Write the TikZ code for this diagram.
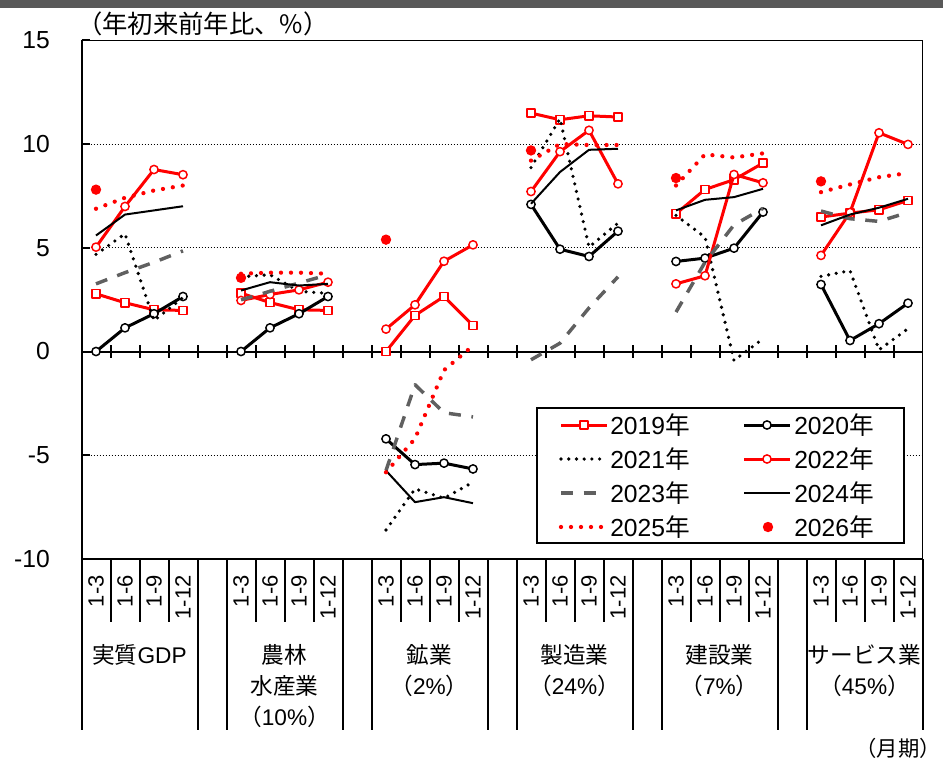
\documentclass[tikz,border=0pt]{standalone}
\usepackage{fontspec}
\setmainfont{Liberation Sans}
\newfontfamily\cjk{Noto Sans CJK JP}
\usetikzlibrary{plotmarks}
\definecolor{xred}{RGB}{255,0,0}
\definecolor{xgray}{RGB}{96,96,96}
\definecolor{barg}{RGB}{89,89,89}
\begin{document}
\begin{tikzpicture}[x=0.75pt,y=-0.75pt,
  lab/.style={inner sep=0pt, font=\fontsize{18.5}{22}\selectfont},
  glab/.style={inner sep=0pt, font=\fontsize{17}{20}\selectfont},
  mlab/.style={rotate=90, anchor=east, inner sep=0pt, font=\fontsize{16.5}{19}\selectfont},
  grid/.style={line width=0.75pt, dash pattern=on 0.75pt off 1.5pt},
  frame/.style={line width=1.1pt},
  axisline/.style={line width=1.5pt},
  s19/.style={draw=xred, line width=2.25pt, line join=round, mark=square*, mark size=3.1pt,
    mark options={solid, fill=white, draw=xred, line width=1.1pt}},
  s20/.style={draw=black, line width=2.25pt, line join=round, mark=*, mark size=3.1pt,
    mark options={solid, fill=white, draw=black, line width=1.1pt}},
  s21/.style={draw=black, line width=2.7pt, line cap=round, line join=round, dash pattern=on 0pt off 5.8pt},
  s22/.style={draw=xred, line width=2.25pt, line join=round, mark=*, mark size=3.1pt,
    mark options={solid, fill=white, draw=xred, line width=1.1pt}},
  s23/.style={draw=xgray, line width=2.6pt, line join=round, dash pattern=on 9pt off 8pt},
  s24/.style={draw=black, line width=1.5pt, line join=round},
  s25/.style={draw=xred, line width=3.2pt, line cap=round, line join=round, dash pattern=on 0pt off 7.5pt},
  s26/.style={fill=xred}
]
\useasboundingbox (0,0) rectangle (943,764);
\fill[barg] (0,0) rectangle (943,8);
\node[lab, anchor=west, font=\cjk\fontsize{19}{22}\selectfont] (title) at (77,24) {（年初来前年比、\%）};

% gridlines
\foreach \yy in {144,247.75,455.25} { \draw[grid] (81.5,\yy) -- (922.5,\yy); }
% plot frame
\draw[frame] (81.5,40.25) rectangle (922.5,559);
\draw[axisline] (81.5,40.25) -- (81.5,730);
\draw[axisline] (81.5,351.5) -- (922.5,351.5);
% inner y ticks
\foreach \yy in {40.25,144,247.75,351.5,455.25,559} { \draw[axisline] (81.5,\yy) -- (89.5,\yy); }
% zero-line ticks
\foreach \i in {1,...,28} { \draw[axisline] ({81.5+29*\i},345) -- ({81.5+29*\i},358); }
% y labels
\node[lab, anchor=east] (y15) at (50,40.25) {15};
\node[lab, anchor=east] (y10) at (50,144) {10};
\node[lab, anchor=east] (y5) at (50,247.75) {5};
\node[lab, anchor=east] (y0) at (50,351.5) {0};
\node[lab, anchor=east] (ym5) at (50,455.25) {-5};
\node[lab, anchor=east] (ym10) at (50,559) {-10};

% category separators below the plot
\foreach \g in {0,...,5} {
  \draw[axisline] ({81.5+145*\g},559) -- ({81.5+145*\g},730);
  \draw[axisline] ({81.5+145*\g+116},559) -- ({81.5+145*\g+116},730);
  \foreach \k in {1,2,3} { \draw[axisline] ({81.5+145*\g+29*\k},559) -- ({81.5+145*\g+29*\k},622); }
  \foreach \k/\t in {0/1-3,1/1-6,2/1-9,3/1-12} { \node[mlab] (m\g-\k) at ({96+145*\g+29*\k},575) {\t}; }
}
% group labels
\node[glab] (g0a) at (139.5,655) {{\cjk 実質}GDP};
\node[glab] (g1a) at (284.5,655) {\cjk 農林};
\node[glab] (g1b) at (284.5,686) {\cjk 水産業};
\node[glab] (g1c) at (284.5,717) {{\cjk （}10\%{\cjk ）}};
\node[glab] (g2a) at (429.5,655) {\cjk 鉱業};
\node[glab] (g2b) at (429.5,686) {{\cjk （}2\%{\cjk ）}};
\node[glab] (g3a) at (574.5,655) {\cjk 製造業};
\node[glab] (g3b) at (574.5,686) {{\cjk （}24\%{\cjk ）}};
\node[glab] (g4a) at (719.5,655) {\cjk 建設業};
\node[glab] (g4b) at (719.5,686) {{\cjk （}7\%{\cjk ）}};
\node[glab] (g5a) at (864.5,655) {\cjk サービス業};
\node[glab] (g5b) at (864.5,686) {{\cjk （}45\%{\cjk ）}};
\node[glab, anchor=east, font=\cjk\fontsize{16}{18}\selectfont] (unit) at (941,748) {（月期）};

% data
\begin{scope}[shift={(72pt,-263.625pt)}, x=21.75pt, y=15.5625pt]
% 2019
\draw[s19] plot coordinates {(0,2.78) (1,2.35) (2,2.01) (3,1.98)};
\draw[s19] plot coordinates {(5,2.81) (6,2.36) (7,2.01) (8,1.98)};
\draw[s19] plot coordinates {(10,0.0) (11,1.74) (12,2.65) (13,1.25)};
\draw[s19] plot coordinates {(15,11.49) (16,11.17) (17,11.36) (18,11.3)};
\draw[s19] plot coordinates {(20,6.64) (21,7.81) (22,8.28) (23,9.08)};
\draw[s19] plot coordinates {(25,6.48) (26,6.67) (27,6.83) (28,7.28)};
% 2020
\draw[s20] plot coordinates {(0,0.0) (1,1.14) (2,1.82) (3,2.65)};
\draw[s20] plot coordinates {(5,0.0) (6,1.14) (7,1.82) (8,2.65)};
\draw[s20] plot coordinates {(10,-4.21) (11,-5.45) (12,-5.38) (13,-5.66)};
\draw[s20] plot coordinates {(15,7.09) (16,4.93) (17,4.58) (18,5.8)};
\draw[s20] plot coordinates {(20,4.34) (21,4.5) (22,4.98) (23,6.72)};
\draw[s20] plot coordinates {(25,3.23) (26,0.53) (27,1.34) (28,2.33)};
% 2021
\draw[s21] plot coordinates {(0,4.68) (1,5.67) (2,1.49) (3,2.6)};
\draw[s21] plot coordinates {(5,3.6) (6,3.7) (7,2.9) (8,2.8)};
\draw[s21] plot coordinates {(10,-8.6) (11,-6.62) (12,-7.07) (13,-6.3)};
\draw[s21] plot coordinates {(15,8.86) (16,11.22) (17,5.03) (18,6.19)};
\draw[s21] plot coordinates {(20,6.56) (21,5.51) (22,-0.43) (23,0.61)};
\draw[s21] plot coordinates {(25,3.62) (26,3.9) (27,0.08) (28,1.1)};
% 2022
\draw[s22] plot coordinates {(0,5.03) (1,6.99) (2,8.77) (3,8.52)};
\draw[s22] plot coordinates {(5,2.46) (6,2.75) (7,2.97) (8,3.34)};
\draw[s22] plot coordinates {(10,1.08) (11,2.25) (12,4.35) (13,5.14)};
\draw[s22] plot coordinates {(15,7.71) (16,9.63) (17,10.66) (18,8.08)};
\draw[s22] plot coordinates {(20,3.26) (21,3.65) (22,8.53) (23,8.13)};
\draw[s22] plot coordinates {(25,4.63) (26,6.7) (27,10.54) (28,9.98)};
% 2023
\draw[s23] plot coordinates {(0,3.26) (1,3.8) (2,4.3) (3,4.85)};
\draw[s23] plot coordinates {(5,2.49) (6,2.9) (7,3.3) (8,3.7)};
\draw[s23] plot coordinates {(10,-5.74) (11,-1.6) (12,-2.95) (13,-3.15)};
\draw[s23] plot coordinates {(15,-0.4) (16,0.4) (17,2.1) (18,3.6)};
\draw[s23] plot coordinates {(20,1.9) (21,4.3) (22,6.1) (23,6.9)};
\draw[s23] plot coordinates {(25,6.77) (26,6.4) (27,6.27) (28,6.7)};
% 2024
\draw[s24] plot coordinates {(0,5.59) (1,6.6) (2,6.8) (3,7.0)};
\draw[s24] plot coordinates {(5,2.94) (6,3.34) (7,3.18) (8,3.26)};
\draw[s24] plot coordinates {(10,-5.74) (11,-7.26) (12,-7.02) (13,-7.31)};
\draw[s24] plot coordinates {(15,7.12) (16,8.65) (17,9.72) (18,9.77)};
\draw[s24] plot coordinates {(20,6.8) (21,7.31) (22,7.44) (23,7.84)};
\draw[s24] plot coordinates {(25,6.08) (26,6.6) (27,6.93) (28,7.36)};
% 2025
\draw[s25] plot coordinates {(0,6.88) (1,7.41) (2,7.76) (3,8.0)};
\draw[s25] plot coordinates {(5,3.75) (6,3.8) (7,3.8) (8,3.75)};
\draw[s25] plot coordinates {(10,-5.82) (11,-4.2) (12,-0.9) (13,0.28)};
\draw[s25] plot coordinates {(15,9.2) (16,10.0) (17,9.95) (18,9.95)};
\draw[s25] plot coordinates {(20,8.0) (21,9.5) (22,9.35) (23,9.55)};
\draw[s25] plot coordinates {(25,7.68) (26,8.05) (27,8.4) (28,8.6)};
% 2026
\fill[s26] (0,7.8) circle[radius=3.9pt];
\fill[s26] (5,3.55) circle[radius=3.9pt];
\fill[s26] (10,5.39) circle[radius=3.9pt];
\fill[s26] (15,9.69) circle[radius=3.9pt];
\fill[s26] (20,8.36) circle[radius=3.9pt];
\fill[s26] (25,8.2) circle[radius=3.9pt];
\end{scope}

% legend
\draw[frame, fill=white] (537,408) rectangle (904,543);
\draw[s19, mark indices={2}] plot coordinates {(561,425) (584,425) (607,425)};
\node[lab, anchor=west] (l19) at (610,425) {2019{\cjk 年}};
\draw[s20, mark indices={2}] plot coordinates {(744,425) (767,425) (790,425)};
\node[lab, anchor=west] (l20) at (794,425) {2020{\cjk 年}};
\draw[s21] (561,459) -- (605,459);
\node[lab, anchor=west] (l21) at (610,459) {2021{\cjk 年}};
\draw[s22, mark indices={2}] plot coordinates {(744,459) (767,459) (790,459)};
\node[lab, anchor=west] (l22) at (794,459) {2022{\cjk 年}};
\draw[s23] (561,493) -- (598,493);
\node[lab, anchor=west] (l23) at (610,493) {2023{\cjk 年}};
\draw[s24] (744,493) -- (790,493);
\node[lab, anchor=west] (l24) at (794,493) {2024{\cjk 年}};
\draw[s25] (561,527) -- (603,527);
\node[lab, anchor=west] (l25) at (610,527) {2025{\cjk 年}};
\fill[s26] (768,527) circle[radius=3.9pt];
\node[lab, anchor=west] (l26) at (794,527) {2026{\cjk 年}};
\end{tikzpicture}
\end{document}
